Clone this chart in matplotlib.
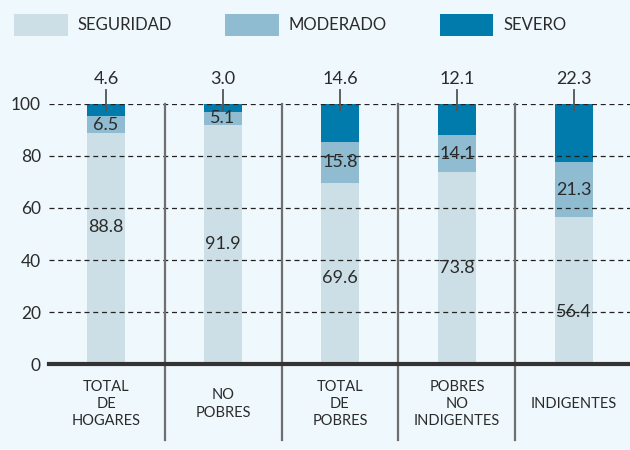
import matplotlib
import matplotlib.pyplot as plt
from matplotlib.patches import Patch

matplotlib.use("Agg")

categories = ["TOTAL\nDE\nHOGARES", "NO\nPOBRES", "TOTAL\nDE\nPOBRES",
              "POBRES\nNO\nINDIGENTES", "INDIGENTES"]
seguridad = [88.8, 91.9, 69.6, 73.8, 56.4]
moderado = [6.5, 5.1, 15.8, 14.1, 21.3]
severo = [4.6, 3.0, 14.6, 12.1, 22.3]
series_names = ["SEGURIDAD", "MODERADO", "SEVERO"]
yticks = [0, 20, 40, 60, 80, 100]

BG = "#eff8fd"
COLORS = ["#cddfe6", "#8fbcd1", "#007bab"]
TXT = "#2b2b2b"

plt.rcParams["font.family"] = ["Lato", "DejaVu Sans"]

fig = plt.figure(figsize=(6.3, 4.5), dpi=100, facecolor=BG)
ax = fig.add_axes([0.078, 0.191, 0.922, 0.578], facecolor=BG)

x = list(range(len(categories)))
width = 0.32

ax.bar(x, seguridad, width, color=COLORS[0], zorder=1)
ax.bar(x, moderado, width, bottom=seguridad, color=COLORS[1], zorder=1)
bottom3 = [a + b for a, b in zip(seguridad, moderado)]
ax.bar(x, [100 - b for b in bottom3], width, bottom=bottom3, color=COLORS[2], zorder=1)

# dashed grid
for v in yticks[1:]:
    ax.axhline(v, color="#222222", lw=0.9, ls=(0, (4, 3)), zorder=2)

# labels inside seguridad segment (placed as in the source)
seg_label_y = [52.5, 46, 33, 37, 20]
for xi, v, ly in zip(x, seguridad, seg_label_y):
    ax.text(xi, ly, f"{v:.1f}", ha="center", va="center", fontsize=13, color=TXT, zorder=3)

for xi, s, m in zip(x, seguridad, moderado):
    ax.text(xi, s + m / 2, f"{m:.1f}", ha="center", va="center", fontsize=13, color=TXT, zorder=3)

for xi, v in zip(x, severo):
    ax.plot([xi, xi], [97.7, 105.4], color="#555555", lw=1.3, clip_on=False, zorder=3)
    ax.text(xi, 106.5, f"{v:.1f}", ha="center", va="bottom", fontsize=13, color=TXT, clip_on=False)

# separators between groups
for sx in [0.5, 1.5, 2.5, 3.5]:
    ax.plot([sx, sx], [100, -29.2], color="#6f6f6f", lw=1.6, clip_on=False, zorder=2)

# category labels
for xi, c in zip(x, categories):
    ax.text(xi, -15.4, c, ha="center", va="center", fontsize=10.5, color=TXT,
            linespacing=1.3, clip_on=False)

ax.set_xlim(-0.487, 4.48)
ax.set_ylim(0, 100)
ax.set_yticks(yticks)
ax.set_yticklabels([str(t) for t in yticks], fontsize=12.5, color=TXT)
ax.set_xticks([])
ax.tick_params(axis="y", length=0, pad=6)
for side in ["top", "right", "left"]:
    ax.spines[side].set_visible(False)
ax.spines["bottom"].set_color("#333333")
ax.spines["bottom"].set_linewidth(3)
ax.spines["bottom"].set_zorder(4)

handles = [Patch(facecolor=c, edgecolor="none") for c in COLORS]
fig.legend(handles, series_names, loc="upper left", bbox_to_anchor=(0.0, 1.0),
           ncol=3, frameon=False, fontsize=12, handlelength=3.2, handleheight=1.6,
           columnspacing=3.2, handletextpad=0.6, labelcolor=TXT,
           borderaxespad=0.45)

fig.savefig("out.png", dpi=100, facecolor=BG)
